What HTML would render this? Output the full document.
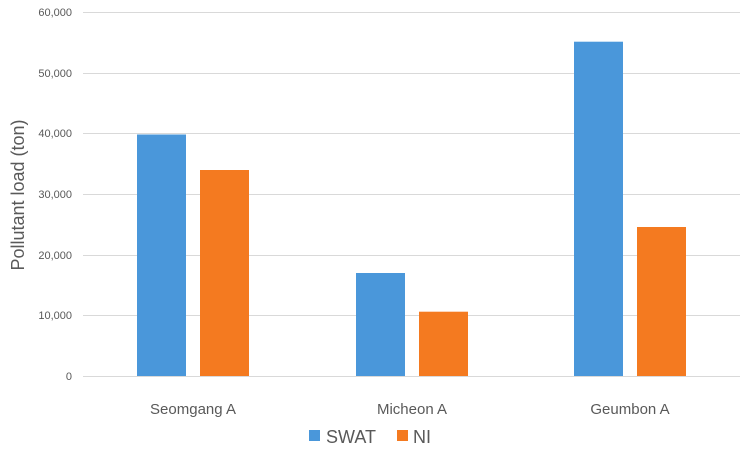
<!DOCTYPE html><html><head><style>body{margin:0;background:#fff}</style></head><body>
<svg width="755" height="448" xmlns="http://www.w3.org/2000/svg" font-family="Liberation Sans, sans-serif">
<g stroke="#d9d9d9" stroke-width="1">
<line x1="83" x2="740" y1="12.5" y2="12.5"/><line x1="83" x2="740" y1="73.5" y2="73.5"/><line x1="83" x2="740" y1="133.5" y2="133.5"/><line x1="83" x2="740" y1="194.5" y2="194.5"/><line x1="83" x2="740" y1="255.5" y2="255.5"/><line x1="83" x2="740" y1="315.5" y2="315.5"/><line x1="83" x2="740" y1="376.5" y2="376.5"/>
</g>
<g font-size="11" fill="#595959" text-anchor="end">
<text x="72" y="16">60,000</text><text x="72" y="77">50,000</text><text x="72" y="137">40,000</text><text x="72" y="198">30,000</text><text x="72" y="259">20,000</text><text x="72" y="319">10,000</text><text x="72" y="380">0</text>
</g>
<text transform="translate(24,195) rotate(-90)" font-size="18" fill="#595959" text-anchor="middle">Pollutant load (ton)</text>
<g fill="#4a97da"><rect x="137" y="134.5" width="49" height="241.5"/><rect x="356" y="273" width="49" height="103"/><rect x="574" y="41.7" width="49" height="334.3"/></g>
<g fill="#f47a20"><rect x="200" y="170" width="49" height="206"/><rect x="419" y="311.7" width="49" height="64.3"/><rect x="637" y="227" width="49" height="149"/></g>
<g font-size="15" fill="#595959" text-anchor="middle">
<text x="193" y="414">Seomgang A</text><text x="412" y="414">Micheon A</text><text x="630" y="414">Geumbon A</text>
</g>
<rect x="309" y="430" width="11" height="11" fill="#4a97da"/><text x="326" y="443" font-size="18" fill="#595959">SWAT</text>
<rect x="397" y="430" width="11" height="11" fill="#f47a20"/><text x="413" y="443" font-size="18" fill="#595959">NI</text>
</svg></body></html>
